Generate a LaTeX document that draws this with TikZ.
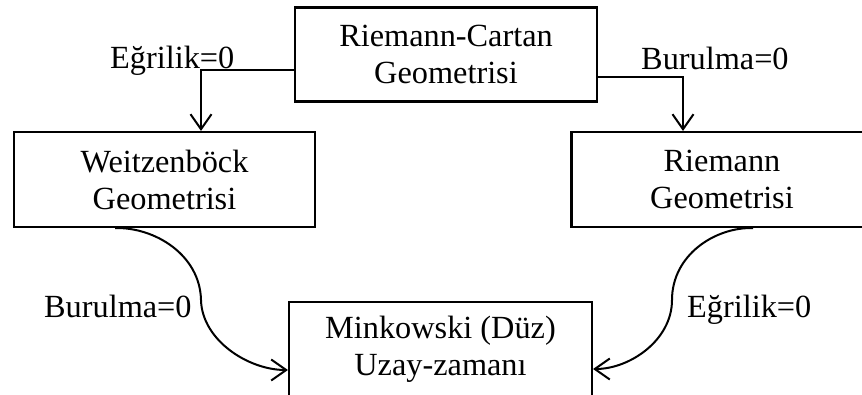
\documentclass[tikz,border=0pt]{standalone}
\usepackage{fontspec}
\setmainfont{Liberation Serif}
\usetikzlibrary{arrows.meta}
\tikzset{
  geobox/.style={draw, line width=2.1pt, rectangle, inner sep=0pt, align=center,
    font=\fontsize{32.3}{37}\selectfont, minimum height=94pt},
  lbl/.style={inner sep=0pt, font=\fontsize{32.3}{37}\selectfont},
  arr/.style={line width=2pt, -{Straight Barb[length=15pt,width=21pt,line width=2pt]}},
}
\begin{document}
\begin{tikzpicture}[x=1pt,y=-1pt]
\path[use as bounding box, clip] (0,0) rectangle (862,394);
\node[geobox, minimum width=302pt] (top) at (446,54.5) {Riemann-Cartan\\Geometrisi};
\node[geobox, minimum width=301pt, minimum height=95pt] (weitz) at (164.5,179.5) {Weitzenböck\\Geometrisi};
\node[geobox, minimum width=301pt, minimum height=95pt] (riem) at (722,179.5) {Riemann\\Geometrisi};
\node[geobox, minimum width=303pt, minimum height=95pt] (mink) at (440.5,349.5) {Minkowski (Düz)\\Uzay-zamanı};
\node[lbl, anchor=base west] (l1) at (110,68) {Eğrilik=0};
\node[lbl, anchor=base west] (l2) at (641,69) {Burulma=0};
\node[lbl, anchor=base west] (l3) at (44,317) {Burulma=0};
\node[lbl, anchor=base west] (l4) at (687,317) {Eğrilik=0};
\draw[arr] (top.west |- 0,70) -| (201,0 |- weitz.north);
\draw[arr] (top.east |- 0,77) -| (683,0 |- riem.north);
\draw[arr] (115,0 |- weitz.south) .. controls (155,227) and (200,255) .. (201,300)
  .. controls (202,340) and (248,370) .. (mink.west |- 0,370);
\draw[arr] (753,0 |- riem.south) .. controls (715,227) and (672,255) .. (672,300)
  .. controls (672,340) and (630,369) .. (mink.east |- 0,369);
\end{tikzpicture}
\end{document}
